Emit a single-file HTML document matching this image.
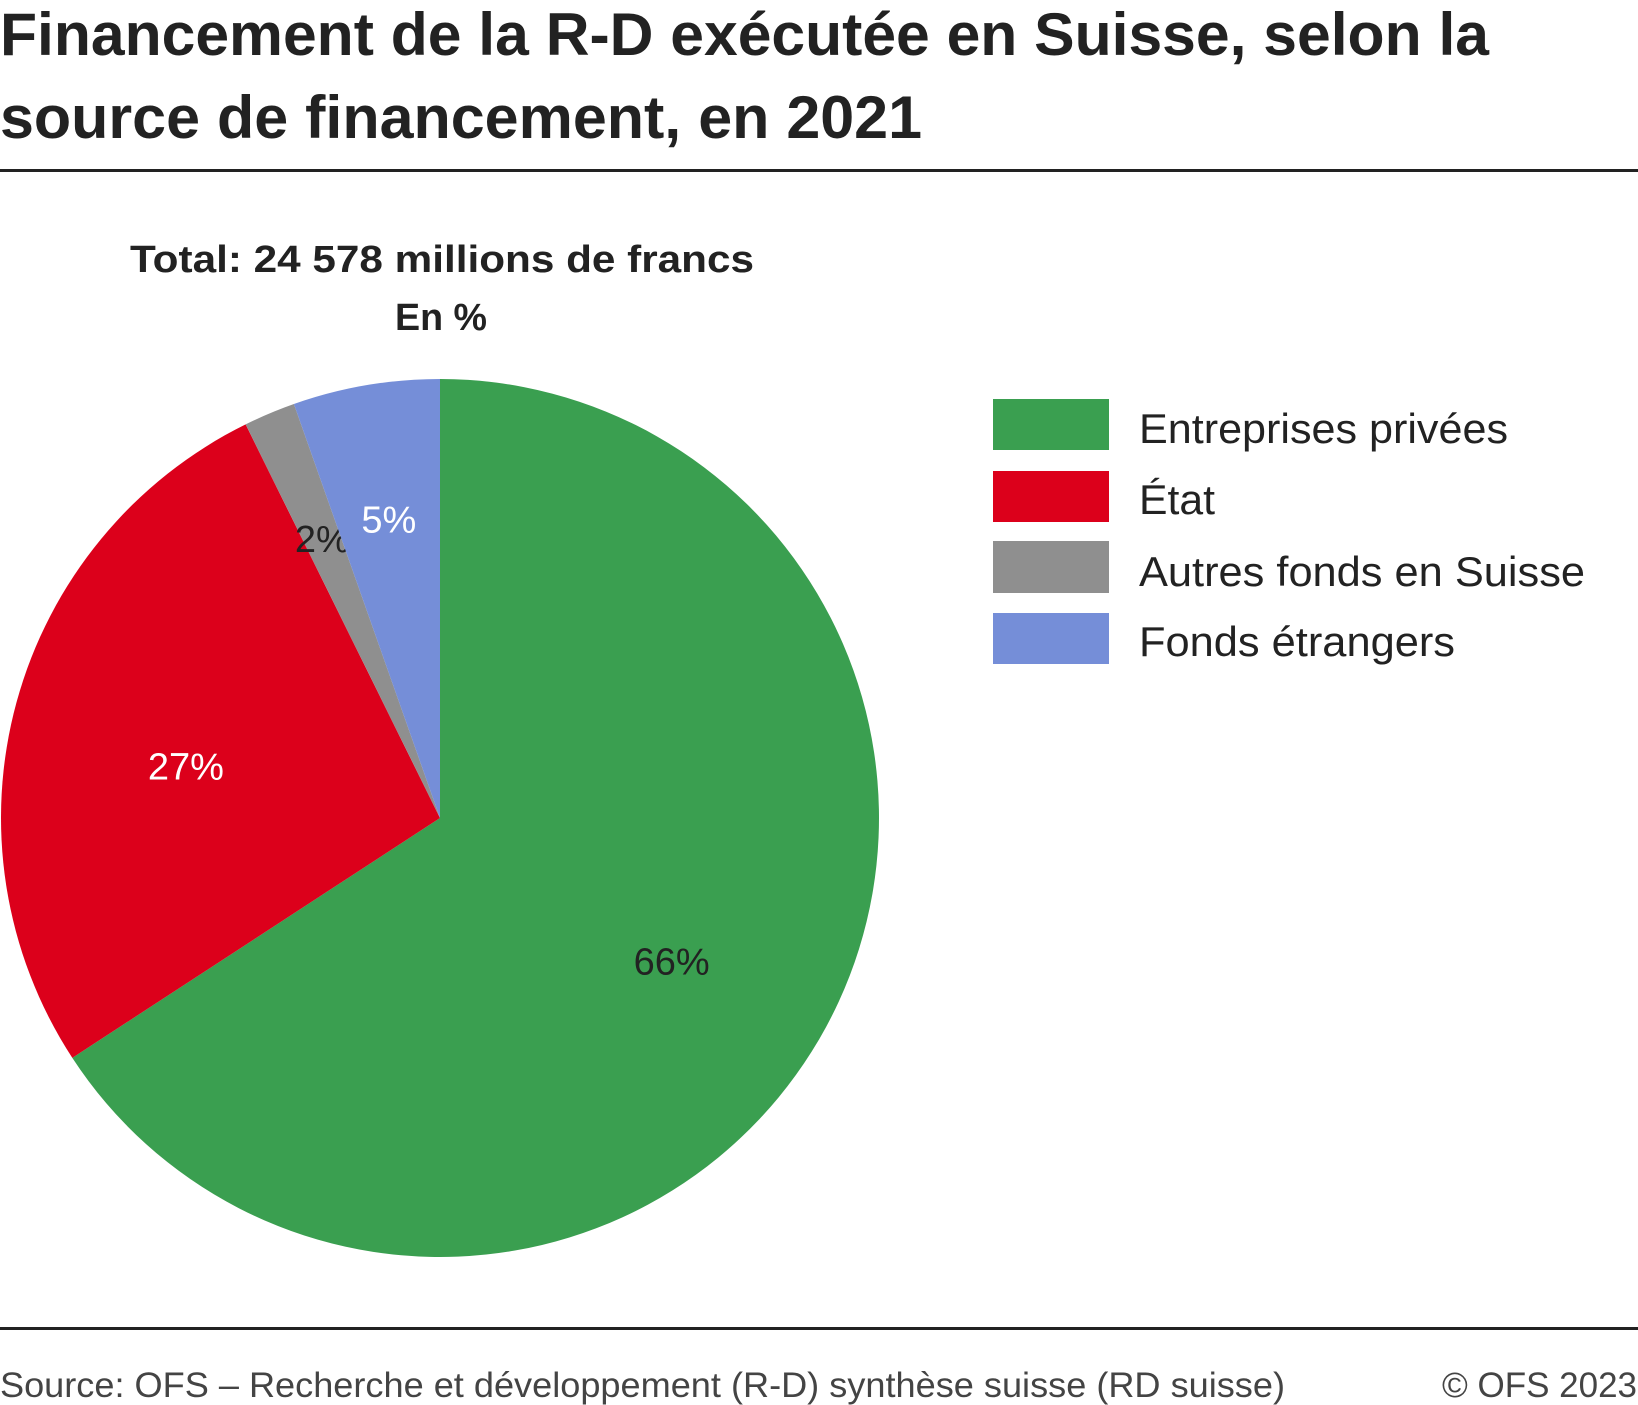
<!DOCTYPE html>
<html><head><meta charset="utf-8"><style>
html,body{margin:0;padding:0;background:#fff;}
svg{display:block;font-family:"Liberation Sans",sans-serif;}
</style></head><body>
<svg width="1638" height="1405" viewBox="0 0 1638 1405">
<text x="0" y="55" font-size="60" font-weight="bold" fill="#222" textLength="1489" lengthAdjust="spacingAndGlyphs">Financement de la R-D exécutée en Suisse, selon la</text>
<text x="0" y="138" font-size="60" font-weight="bold" fill="#222" textLength="922" lengthAdjust="spacingAndGlyphs">source de financement, en 2021</text>
<rect x="0" y="169" width="1638" height="3" fill="#222"/>
<text x="130" y="272" font-size="38" font-weight="bold" fill="#222" textLength="624" lengthAdjust="spacingAndGlyphs">Total: 24 578 millions de francs</text>
<text x="395" y="330" font-size="38" font-weight="bold" fill="#222" textLength="92" lengthAdjust="spacingAndGlyphs">En %</text>
<g id="pie"></g>
<g>
<rect x="993" y="399" width="116" height="51" fill="#3a9f50"/>
<text x="1139" y="443" font-size="42" fill="#222" textLength="369" lengthAdjust="spacingAndGlyphs">Entreprises privées</text>
<rect x="993" y="471" width="116" height="51" fill="#dc001b"/>
<text x="1139" y="514" font-size="42" fill="#222" textLength="76" lengthAdjust="spacingAndGlyphs">État</text>
<rect x="993" y="541" width="116" height="52" fill="#8f8f8f"/>
<text x="1139" y="586" font-size="42" fill="#222" textLength="446" lengthAdjust="spacingAndGlyphs">Autres fonds en Suisse</text>
<rect x="993" y="613" width="116" height="51" fill="#758ed8"/>
<text x="1139" y="656" font-size="42" fill="#222" textLength="316" lengthAdjust="spacingAndGlyphs">Fonds étrangers</text>
</g>
<rect x="0" y="1327" width="1638" height="3" fill="#222"/>
<text x="0" y="1397" font-size="35" fill="#444" textLength="1285" lengthAdjust="spacingAndGlyphs">Source: OFS – Recherche et développement (R-D) synthèse suisse (RD suisse)</text>
<text x="1637" y="1397" font-size="35" fill="#444" text-anchor="end">© OFS 2023</text>
</svg>
<script>
const categories = ["Entreprises privées","État","Autres fonds en Suisse","Fonds étrangers"];
const values = [65.8, 26.9, 1.9, 5.4];
const valueLabels = ["66%","27%","2%","5%"];
const colors = ["#3a9f50","#dc001b","#8f8f8f","#758ed8"];
const labelColors = ["#222","#fff","#222","#fff"];
const cx = 440, cy = 818, r = 439;
const NS = "http://www.w3.org/2000/svg";
const g = document.getElementById('pie');
const total = values.reduce((a,b)=>a+b,0);
function pt(frac, rad){ const a = frac*2*Math.PI; return [cx + rad*Math.sin(a), cy - rad*Math.cos(a)]; }
let acc = 0;
values.forEach((v,i)=>{
  const f0 = acc/total, f1 = (acc+v)/total; acc += v;
  const [x0,y0] = pt(f0,r), [x1,y1] = pt(f1,r);
  const large = (f1-f0) > 0.5 ? 1 : 0;
  const p = document.createElementNS(NS,'path');
  p.setAttribute('d',`M${cx},${cy} L${x0},${y0} A${r},${r} 0 ${large} 1 ${x1},${y1} Z`);
  p.setAttribute('fill',colors[i]);
  
  
  g.appendChild(p);
  const small = (f1-f0) < 0.1;
  const frac = small ? 0.69 : 0.6;
  const [lx,ly] = pt((f0+f1)/2, r*frac);
  const t = document.createElementNS(NS,'text');
  t.setAttribute('x',lx); t.setAttribute('y',ly+(small?13:31));
  t.setAttribute('text-anchor','middle');
  t.setAttribute('font-size','38');
  t.setAttribute('fill',labelColors[i]);
  t.textContent = valueLabels[i];
  
  
  g.appendChild(t);
});
</script>
</body></html>
